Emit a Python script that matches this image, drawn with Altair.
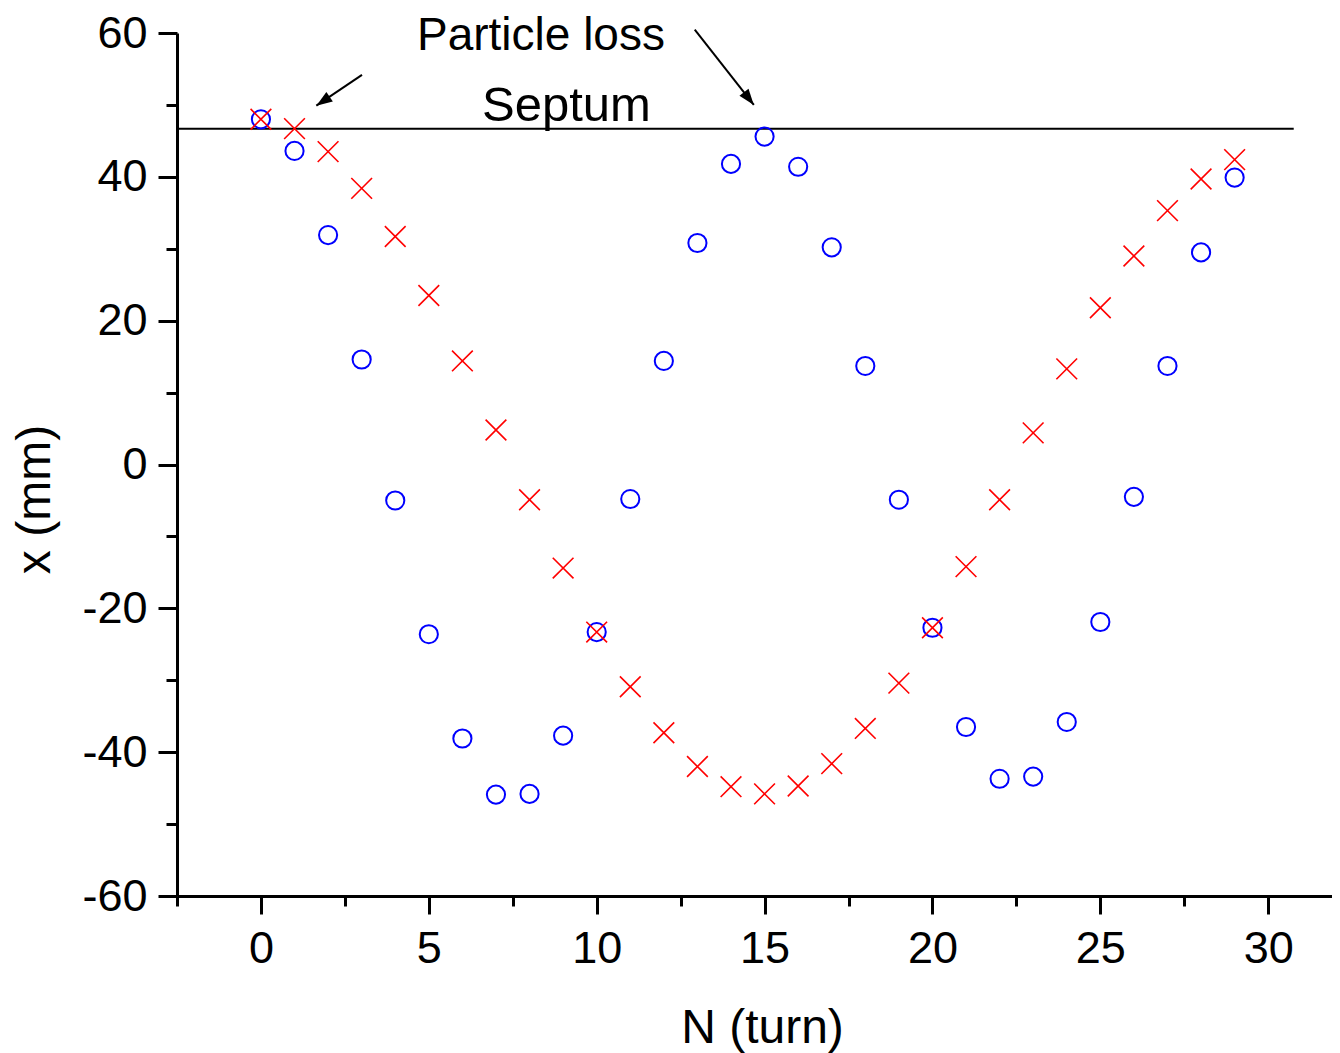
import altair as alt
import pandas as pd

# ---- data ----
turns = list(range(30))
circle_x = [48.0, 43.6, 31.9, 14.6, -5.0, -23.6, -38.1, -45.9, -45.8, -37.7,
            -23.3, -4.8, 14.4, 30.8, 41.8, 45.6, 41.4, 30.2, 13.7, -4.9,
            -22.7, -36.5, -43.7, -43.4, -35.8, -21.9, -4.5, 13.7, 29.5, 39.9]
cross_x = [48.0, 46.7, 43.5, 38.4, 31.7, 23.5, 14.4, 4.8, -4.9, -14.4,
           -23.3, -30.9, -37.3, -42.0, -44.8, -45.8, -44.7, -41.6, -36.7, -30.4,
           -22.7, -14.2, -4.9, 4.4, 13.3, 21.8, 29.0, 35.3, 39.7, 42.4]

septum_level = 46.7
septum_start, septum_end = -2.5, 30.76

loss_label, loss_n, loss_x = "Particle loss", 8.34, 57.7
septum_label, septum_n, septum_x = "Septum", 9.10, 47.7

arrow_n0 = [3.01, 12.92]
arrow_x0 = [54.17, 60.47]
arrow_n1 = [1.65, 14.68]
arrow_x1 = [49.9, 50.0]
arrow_angle = [236, 142]

x_ticks = [-2.5 + 2.5 * i for i in range(14)]
y_ticks = [-60 + 10 * i for i in range(13)]

FONT = "Liberation Sans"

pts = pd.DataFrame({"N": turns, "circ": circle_x, "cross": cross_x})
septum = pd.DataFrame({"a": [septum_start], "b": [septum_end], "y": [septum_level]})
loss_df = pd.DataFrame({"N": [loss_n], "x": [loss_x], "t": [loss_label]})
sept_df = pd.DataFrame({"N": [septum_n], "x": [septum_x], "t": [septum_label]})
arrows = pd.DataFrame({"n0": arrow_n0, "x0": arrow_x0, "n1": arrow_n1,
                       "x1": arrow_x1, "ang": arrow_angle})

xscale = alt.Scale(domain=[-2.5, 31.9], nice=False, zero=False)
yscale = alt.Scale(domain=[-60, 60], nice=False, zero=False)

xaxis = alt.Axis(
    values=x_ticks,
    title="N (turn)",
    labelExpr="datum.value % 5 === 0 ? '' + datum.value : ''",
    tickSize={"condition": {"test": "datum.value % 5 === 0", "value": 18}, "value": 10},
    labelPadding=12,
    titleX=585, titleY=146, titleBaseline="alphabetic",
    titleFontSize=48,
)
yaxis = alt.Axis(
    values=y_ticks,
    title="x (mm)",
    labelExpr="datum.value % 20 === 0 ? '' + datum.value : ''",
    tickSize={"condition": {"test": "datum.value % 20 === 0", "value": 19}, "value": 11},
    labelPadding=11,
    titleX=-128, titleY=466, titleBaseline="alphabetic", titleAngle=270,
    titleFontSize=48,
)

base_x = alt.X("N:Q", scale=xscale, axis=xaxis)
base_y = alt.Y("circ:Q", scale=yscale, axis=yaxis)

circles = alt.Chart(pts).mark_point(
    shape="circle", filled=False, size=330, strokeWidth=2, color="#0000FF", opacity=1
).encode(x=base_x, y=base_y)

crosses = alt.Chart(pts).mark_point(
    shape="M-1,-1L1,1M-1,1L1,-1", filled=False, size=430, strokeWidth=1.6,
    color="#FF0000", opacity=1
).encode(x=alt.X("N:Q", scale=xscale), y=alt.Y("cross:Q", scale=yscale))

septum_line = alt.Chart(septum).mark_rule(color="black", strokeWidth=2).encode(
    x=alt.X("a:Q", scale=xscale), x2="b:Q", y=alt.Y("y:Q", scale=yscale)
)

shafts = alt.Chart(arrows).mark_rule(color="black", strokeWidth=2).encode(
    x=alt.X("n0:Q", scale=xscale), y=alt.Y("x0:Q", scale=yscale),
    x2="n1:Q", y2="x1:Q"
)

heads = alt.Chart(arrows).mark_point(
    shape="M0,0L-0.36,1L0.36,1Z", filled=True, size=1024, color="black",
    opacity=1, strokeWidth=0
).encode(
    x=alt.X("n1:Q", scale=xscale), y=alt.Y("x1:Q", scale=yscale),
    angle=alt.Angle("ang:Q", scale=None)
)

loss_text = alt.Chart(loss_df).mark_text(
    font=FONT, fontSize=46, color="black", align="center", baseline="alphabetic"
).encode(x=alt.X("N:Q", scale=xscale), y=alt.Y("x:Q", scale=yscale), text="t:N")

sept_text = alt.Chart(sept_df).mark_text(
    font=FONT, fontSize=49, color="black", align="center", baseline="alphabetic"
).encode(x=alt.X("N:Q", scale=xscale), y=alt.Y("x:Q", scale=yscale), text="t:N")

chart = alt.layer(septum_line, shafts, heads, loss_text, sept_text, circles, crosses).properties(
    width=1155, height=863,
    autosize=alt.AutoSizeParams(type="none"),
    padding={"left": 169, "top": 25, "right": 0, "bottom": 160},
).configure_view(stroke=None).configure_axis(
    grid=False,
    domainColor="black", domainWidth=3,
    tickColor="black", tickWidth=3,
    labelFont=FONT, labelFontSize=45, labelColor="black",
    titleFont=FONT, titleColor="black", titleFontWeight="normal",
)

chart.save("out.html", embed_options={"renderer": "svg", "actions": False})
